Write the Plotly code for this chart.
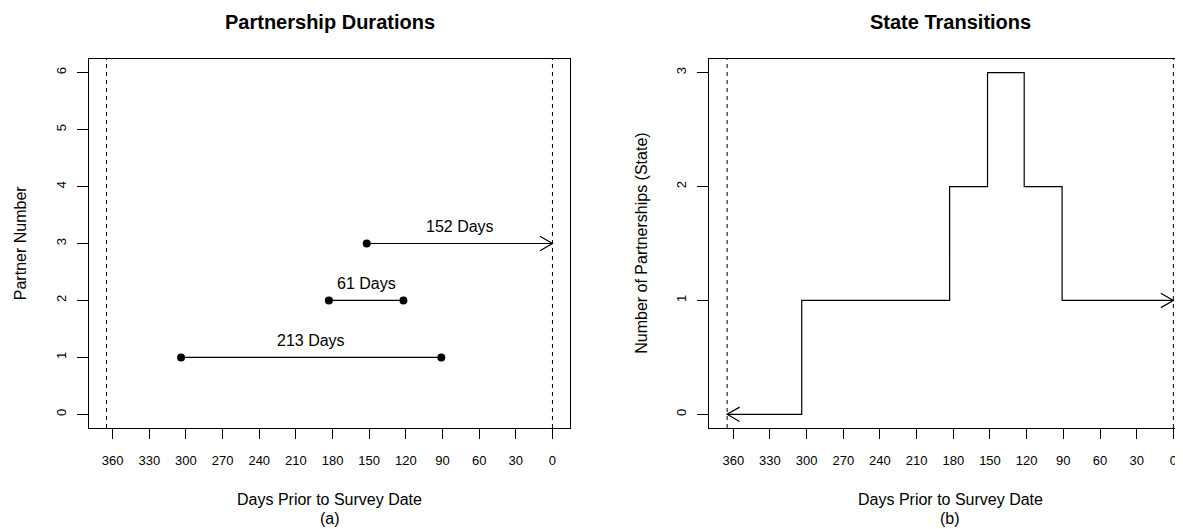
import math
import plotly.graph_objects as go

# ---------------- data ----------------
partner_ids = [1, 2, 3]
start_days = [304, 183, 152]      # days prior to survey when partnership began
end_days = [91, 122, 0]           # days prior to survey when partnership ended
ongoing = [False, False, True]    # still ongoing at survey date
durations = [s - e for s, e in zip(start_days, end_days)]
duration_labels = [f"{d} Days" for d in durations]

state_breaks = [365, 304, 183, 152, 122, 91, 0]
state_values = [0, 1, 2, 3, 2, 1]

x_ticks = [360, 330, 300, 270, 240, 210, 180, 150, 120, 90, 60, 30, 0]
y_ticks_left = [0, 1, 2, 3, 4, 5, 6]
y_ticks_right = [0, 1, 2, 3]
window_bounds = [365, 0]

# ---------------- layout constants ----------------
# page body has an 8px margin, so the figure is laid out 8px up/left of page pixels
OFF = 8
W, H = 1183 - OFF, 529 - OFF
TOP_PX, BOT_PX = 59.3 - OFF, 428.3 - OFF
MT = TOP_PX
MB = H - BOT_PX
PH = BOT_PX - TOP_PX
L_X0, L_X1 = 88.7 - OFF, 570.3 - OFF
R_X0, R_X1 = 709.3 - OFF, float(W)
R_FULL_X1 = 1191.2 - OFF
XR_L = [379.6, -14.6]
YR_L = [-0.24, 6.24]
XR_R = [379.6, -7.9]
YR_R = [-0.12, 3.12]
FONT = "Liberation Sans, Arial, Helvetica, sans-serif"

px_day_L = (L_X1 - L_X0) / (XR_L[0] - XR_L[1])
px_unit_L = PH / (YR_L[1] - YR_L[0])
px_day_R = (R_X1 - R_X0) / (XR_R[0] - XR_R[1])
px_unit_R = PH / (YR_R[1] - YR_R[0])

AL = 14.4  # arrowhead length px
AA = math.radians(30)


def arrow_head(xt, yt, direction, pxd, pxu):
    """open arrowhead at (xt, yt); direction +1 = pointing toward smaller day values (right)."""
    dx = AL * math.cos(AA) / pxd * direction
    dy = AL * math.sin(AA) / pxu
    return [xt + dx, xt, xt + dx], [yt + dy, yt, yt - dy]


fig = go.Figure()

# ---- left panel: partnership durations ----
for pid, s, e, og, lab in zip(partner_ids, start_days, end_days, ongoing, duration_labels):
    fig.add_trace(go.Scatter(x=[s, e], y=[pid, pid], mode="lines",
                             line=dict(color="black", width=1.2),
                             xaxis="x", yaxis="y", showlegend=False, hoverinfo="skip"))
    dots_x = [s] if og else [s, e]
    fig.add_trace(go.Scatter(x=dots_x, y=[pid] * len(dots_x), mode="markers",
                             marker=dict(color="black", size=8),
                             xaxis="x", yaxis="y", showlegend=False, hoverinfo="skip"))
    if og:
        ax, ay = arrow_head(e, pid, 1, px_day_L, px_unit_L)
        fig.add_trace(go.Scatter(x=ax, y=ay, mode="lines",
                                 line=dict(color="black", width=1.2),
                                 xaxis="x", yaxis="y", showlegend=False, hoverinfo="skip"))
    fig.add_annotation(x=(s + e) / 2, y=pid, xref="x", yref="y", text=lab,
                       showarrow=False, xanchor="center", yanchor="middle", yshift=17,
                       font=dict(size=16, color="black", family=FONT))

# ---- right panel: state transitions ----
fig.add_trace(go.Scatter(x=state_breaks, y=state_values + [state_values[-1]], mode="lines",
                         line=dict(color="black", width=1.2, shape="hv"),
                         xaxis="x2", yaxis="y2", showlegend=False, hoverinfo="skip"))
ax, ay = arrow_head(state_breaks[0], state_values[0], -1, px_day_R, px_unit_R)
fig.add_trace(go.Scatter(x=ax, y=ay, mode="lines", line=dict(color="black", width=1.2),
                         xaxis="x2", yaxis="y2", showlegend=False, hoverinfo="skip"))
ax, ay = arrow_head(state_breaks[-1], state_values[-1], 1, px_day_R, px_unit_R)
fig.add_trace(go.Scatter(x=ax, y=ay, mode="lines", line=dict(color="black", width=1.2),
                         xaxis="x2", yaxis="y2", showlegend=False, hoverinfo="skip"))

# dashed window lines
for xr, yr in [("x", "y domain"), ("x2", "y2 domain")]:
    for b in window_bounds:
        fig.add_shape(type="line", xref=xr, yref=yr, x0=b, x1=b, y0=0, y1=1,
                      line=dict(color="black", width=1, dash="4px,4px"))

axis_common = dict(showgrid=False, zeroline=False, showline=True, linecolor="black",
                   linewidth=1, ticks="outside", tickcolor="black", tickwidth=1,
                   tickfont=dict(size=13, color="black", family=FONT))

fig.update_layout(
    width=W, height=H,
    margin=dict(l=0, r=0, t=MT, b=MB, pad=0),
    paper_bgcolor="white", plot_bgcolor="white",
    font=dict(family=FONT, color="black"),
    xaxis=dict(domain=[L_X0 / W, L_X1 / W], range=XR_L, tickvals=x_ticks,
               ticklen=10, mirror=True, ticklabelstandoff=10, anchor="y", **axis_common),
    yaxis=dict(domain=[0, 1], range=YR_L, tickvals=y_ticks_left, ticklen=11,
               tickangle=-90, mirror=True, ticklabelstandoff=6, anchor="x", **axis_common),
    xaxis2=dict(domain=[R_X0 / W, 1], range=XR_R, tickvals=x_ticks,
                ticklen=10, mirror=True, ticklabelstandoff=10, anchor="y2", **axis_common),
    yaxis2=dict(domain=[0, 1], range=YR_R, tickvals=y_ticks_right, ticklen=11,
                tickangle=-90, mirror=False, ticklabelstandoff=6, anchor="x2", **axis_common),
)

L_CX = (L_X0 + L_X1) / 2
R_CX = (R_X0 + R_FULL_X1) / 2

# titles
for cx, txt in [(L_CX, "Partnership Durations"), (R_CX, "State Transitions")]:
    fig.add_annotation(x=cx / W, y=1, xref="paper", yref="paper", xanchor="center",
                       yanchor="middle", yshift=37, text=f"<b>{txt}</b>", showarrow=False,
                       font=dict(size=20, color="black", family=FONT))

# y axis titles
for xd, yd, ytitle in [("x domain", "y domain", "Partner Number"),
                       ("x2 domain", "y2 domain", "Number of Partnerships (State)")]:
    fig.add_annotation(x=0, y=0.5, xref=xd, yref=yd, text=ytitle, textangle=-90,
                       showarrow=False, xanchor="center", yanchor="middle", xshift=-68,
                       font=dict(size=16, color="black", family=FONT))

# x axis titles with panel tags
for cx, tag in [(L_CX, "(a)"), (R_CX, "(b)")]:
    fig.add_annotation(x=cx / W, y=0, xref="paper", yref="paper", text="Days Prior to Survey Date",
                       showarrow=False, xanchor="center", yanchor="middle", yshift=-71,
                       font=dict(size=16, color="black", family=FONT))
    fig.add_annotation(x=cx / W, y=0, xref="paper", yref="paper", text=tag,
                       showarrow=False, xanchor="center", yanchor="middle", yshift=-90,
                       font=dict(size=16, color="black", family=FONT))

fig.write_html("out.html")
